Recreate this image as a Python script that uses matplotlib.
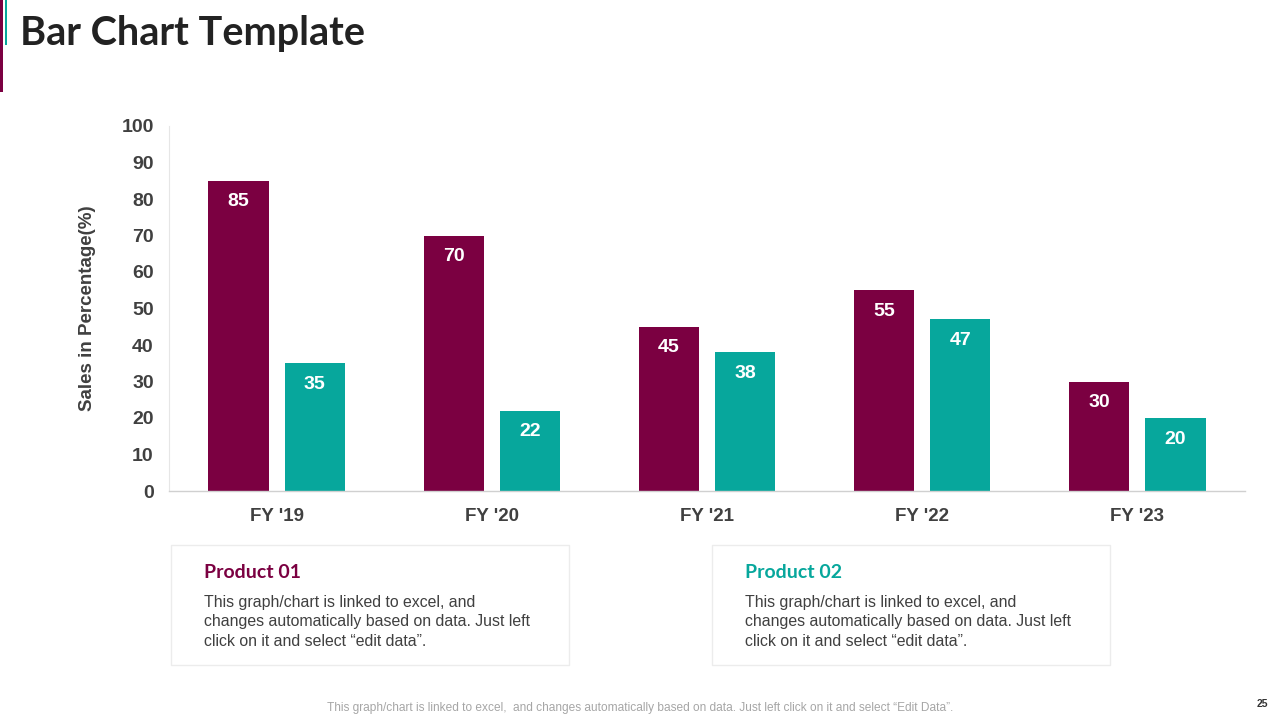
import matplotlib.pyplot as plt
import numpy as np
from matplotlib.patches import Rectangle

CATEGORIES = ["FY '19", "FY '20", "FY '21", "FY '22", "FY '23"]
PRODUCT_01 = [85, 70, 45, 55, 30]
PRODUCT_02 = [35, 22, 38, 47, 20]
Y_TICKS = [0, 10, 20, 30, 40, 50, 60, 70, 80, 90, 100]

MAROON = "#7B0041"
TEAL = "#07A79C"
DARK = "#404040"
BODY = "This graph/chart is linked to excel, and\nchanges automatically based on data. Just left\nclick on it and select \u201cedit data\u201d."
FOOTER = "This graph/chart is linked to excel,  and changes automatically based on data. Just left click on it and select \u201cEdit Data\u201d."

plt.rcParams["font.family"] = ["Liberation Sans", "DejaVu Sans"]

fig = plt.figure(figsize=(12.8, 7.2), dpi=100)

# left accent lines and title
fig.add_artist(Rectangle((0.0, 1 - 92 / 720), 3 / 1280, 92 / 720, transform=fig.transFigure,
                         facecolor=MAROON, edgecolor="none"))
fig.add_artist(Rectangle((5 / 1280, 1 - 45 / 720), 2 / 1280, 45 / 720, transform=fig.transFigure,
                         facecolor=TEAL, edgecolor="none"))
fig.text(20 / 1280, 1 - 33 / 720, "Bar Chart Template", fontsize=28.5, fontweight="bold",
         family=["Lato", "DejaVu Sans"], color="#222222", ha="left", va="center")

ax = fig.add_axes([169 / 1280, 1 - 491 / 720, 1076 / 1280, 365 / 720])
x = np.arange(len(CATEGORIES))
width = 0.279
offset = 0.177
bars1 = ax.bar(x - offset, PRODUCT_01, width, color=MAROON, zorder=2)
bars2 = ax.bar(x + offset, PRODUCT_02, width, color=TEAL, zorder=2)

for bars, vals in ((bars1, PRODUCT_01), (bars2, PRODUCT_02)):
    for bar, v in zip(bars, vals):
        ax.text(bar.get_x() + bar.get_width() / 2, v - 5.8, str(v), color="white",
                fontsize=14, fontweight="bold", ha="center", va="center")

ax.set_xlim(-0.5, len(CATEGORIES) - 0.5)
ax.set_ylim(0, 100)
ax.set_yticks(Y_TICKS)
ax.set_yticklabels([str(t) for t in Y_TICKS], fontsize=14, fontweight="bold", color=DARK)
ax.set_xticks(x)
ax.set_xticklabels(CATEGORIES, fontsize=13.5, fontweight="bold", color=DARK)
ax.tick_params(axis="both", length=0)
ax.tick_params(axis="y", pad=11)
ax.tick_params(axis="x", pad=12)
for side in ("top", "right"):
    ax.spines[side].set_visible(False)
ax.spines["left"].set_color("#e6e6e6")
ax.spines["bottom"].set_color("#d0d0d0")
ax.spines["left"].set_linewidth(0.8)
ax.spines["bottom"].set_linewidth(1.0)
ax.set_ylabel("Sales in Percentage(%)", fontsize=13.5, fontweight="bold", color=DARK, labelpad=18.5)

# text boxes
for bx, title, color in ((171, "Product 01", MAROON), (712, "Product 02", TEAL)):
    fig.add_artist(Rectangle((bx / 1280, 1 - 665 / 720), 398 / 1280, 120 / 720,
                             transform=fig.transFigure, facecolor="white",
                             edgecolor="#ececec", linewidth=1.0))
    fig.text((bx + 33) / 1280, 1 - 573 / 720, title, fontsize=14, fontweight="bold",
             family=["Lato", "DejaVu Sans"], color=color, ha="left", va="center")
    fig.text((bx + 33) / 1280, 1 - 595 / 720, BODY, fontsize=11.4, color=DARK,
             ha="left", va="top", linespacing=1.36)

fig.text(640 / 1280, 1 - 708 / 720, FOOTER, fontsize=8.6, color="#a6a6a6", ha="center", va="center")
fig.text(1262 / 1280, 1 - 704 / 720, "25", fontsize=7.5, fontweight="bold", color="#333333",
         ha="center", va="center")

fig.savefig("out.png", dpi=100, facecolor="white")
